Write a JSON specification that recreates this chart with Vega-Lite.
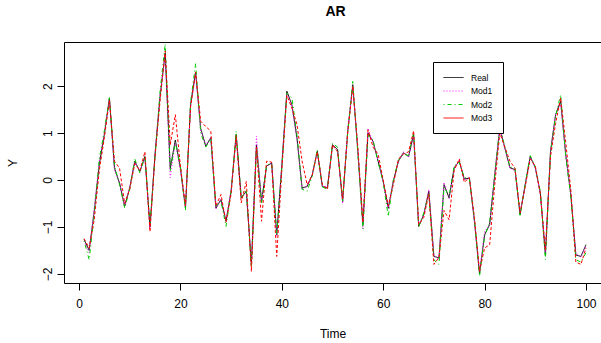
{
"$schema":"https://vega.github.io/schema/vega-lite/v6.json",
"width":537,"height":241,
"autosize":{"type":"none"},
"padding":{"left":64,"top":42,"right":0,"bottom":60},
"background":"white",
"title":{"text":"AR","fontSize":14,"fontWeight":"bold","font":"Liberation Sans","offset":23,"anchor":"middle","dx":3,"color":"black"},
"config":{"view":{"stroke":"black","strokeWidth":1},"font":"Liberation Sans"},
"data":{"values":[
{"t":1,"s":"Real","v":-1.27},{"t":2,"s":"Real","v":-1.5},{"t":3,"s":"Real","v":-0.67},{"t":4,"s":"Real","v":0.33},{"t":5,"s":"Real","v":0.97},{"t":6,"s":"Real","v":1.75},{"t":7,"s":"Real","v":0.25},{"t":8,"s":"Real","v":-0.07},{"t":9,"s":"Real","v":-0.56},{"t":10,"s":"Real","v":-0.17},
{"t":11,"s":"Real","v":0.4},{"t":12,"s":"Real","v":0.18},{"t":13,"s":"Real","v":0.5},{"t":14,"s":"Real","v":-1.0},{"t":15,"s":"Real","v":0.55},{"t":16,"s":"Real","v":1.8},{"t":17,"s":"Real","v":2.7},{"t":18,"s":"Real","v":0.25},{"t":19,"s":"Real","v":0.85},{"t":20,"s":"Real","v":0.25},
{"t":21,"s":"Real","v":-0.6},{"t":22,"s":"Real","v":1.6},{"t":23,"s":"Real","v":2.3},{"t":24,"s":"Real","v":1.1},{"t":25,"s":"Real","v":0.72},{"t":26,"s":"Real","v":0.9},{"t":27,"s":"Real","v":-0.6},{"t":28,"s":"Real","v":-0.42},{"t":29,"s":"Real","v":-0.88},{"t":30,"s":"Real","v":-0.24},
{"t":31,"s":"Real","v":0.97},{"t":32,"s":"Real","v":-0.38},{"t":33,"s":"Real","v":-0.24},{"t":34,"s":"Real","v":-1.8},{"t":35,"s":"Real","v":0.75},{"t":36,"s":"Real","v":-0.46},{"t":37,"s":"Real","v":0.3},{"t":38,"s":"Real","v":0.36},{"t":39,"s":"Real","v":-1.17},{"t":40,"s":"Real","v":0.3},
{"t":41,"s":"Real","v":1.89},{"t":42,"s":"Real","v":1.6},{"t":43,"s":"Real","v":0.89},{"t":44,"s":"Real","v":-0.17},{"t":45,"s":"Real","v":-0.14},{"t":46,"s":"Real","v":0.11},{"t":47,"s":"Real","v":0.61},{"t":48,"s":"Real","v":-0.14},{"t":49,"s":"Real","v":-0.17},{"t":50,"s":"Real","v":0.75},
{"t":51,"s":"Real","v":0.65},{"t":52,"s":"Real","v":-0.46},{"t":53,"s":"Real","v":1.04},{"t":54,"s":"Real","v":2.03},{"t":55,"s":"Real","v":0.61},{"t":56,"s":"Real","v":-0.95},{"t":57,"s":"Real","v":1.0},{"t":58,"s":"Real","v":0.82},{"t":59,"s":"Real","v":0.4},{"t":60,"s":"Real","v":-0.03},
{"t":61,"s":"Real","v":-0.6},{"t":62,"s":"Real","v":-0.03},{"t":63,"s":"Real","v":0.4},{"t":64,"s":"Real","v":0.58},{"t":65,"s":"Real","v":0.5},{"t":66,"s":"Real","v":0.97},{"t":67,"s":"Real","v":-0.99},{"t":68,"s":"Real","v":-0.74},{"t":69,"s":"Real","v":-0.24},{"t":70,"s":"Real","v":-1.63},
{"t":71,"s":"Real","v":-1.66},{"t":72,"s":"Real","v":-0.1},{"t":73,"s":"Real","v":-0.38},{"t":74,"s":"Real","v":0.26},{"t":75,"s":"Real","v":0.4},{"t":76,"s":"Real","v":0.02},{"t":77,"s":"Real","v":0.04},{"t":78,"s":"Real","v":-0.88},{"t":79,"s":"Real","v":-2.0},{"t":80,"s":"Real","v":-1.17},
{"t":81,"s":"Real","v":-0.95},{"t":82,"s":"Real","v":0.11},{"t":83,"s":"Real","v":1.1},{"t":84,"s":"Real","v":0.68},{"t":85,"s":"Real","v":0.26},{"t":86,"s":"Real","v":0.22},{"t":87,"s":"Real","v":-0.74},{"t":88,"s":"Real","v":-0.1},{"t":89,"s":"Real","v":0.5},{"t":90,"s":"Real","v":0.26},
{"t":91,"s":"Real","v":-0.28},{"t":92,"s":"Real","v":-1.6},{"t":93,"s":"Real","v":0.61},{"t":94,"s":"Real","v":1.39},{"t":95,"s":"Real","v":1.68},{"t":96,"s":"Real","v":0.54},{"t":97,"s":"Real","v":-0.31},{"t":98,"s":"Real","v":-1.6},{"t":99,"s":"Real","v":-1.63},{"t":100,"s":"Real","v":-1.38},
{"t":1,"s":"Mod1","v":-1.3},{"t":2,"s":"Mod1","v":-1.55},{"t":3,"s":"Mod1","v":-0.6},{"t":4,"s":"Mod1","v":0.4},{"t":5,"s":"Mod1","v":1.0},{"t":6,"s":"Mod1","v":1.7},{"t":7,"s":"Mod1","v":0.2},{"t":8,"s":"Mod1","v":-0.05},{"t":9,"s":"Mod1","v":-0.55},{"t":10,"s":"Mod1","v":-0.15},
{"t":11,"s":"Mod1","v":0.38},{"t":12,"s":"Mod1","v":0.2},{"t":13,"s":"Mod1","v":0.45},{"t":14,"s":"Mod1","v":-1.05},{"t":15,"s":"Mod1","v":0.6},{"t":16,"s":"Mod1","v":1.85},{"t":17,"s":"Mod1","v":2.65},{"t":18,"s":"Mod1","v":0.05},{"t":19,"s":"Mod1","v":0.8},{"t":20,"s":"Mod1","v":0.2},
{"t":21,"s":"Mod1","v":-0.55},{"t":22,"s":"Mod1","v":1.55},{"t":23,"s":"Mod1","v":2.25},{"t":24,"s":"Mod1","v":1.05},{"t":25,"s":"Mod1","v":0.75},{"t":26,"s":"Mod1","v":0.9},{"t":27,"s":"Mod1","v":-0.62},{"t":28,"s":"Mod1","v":-0.4},{"t":29,"s":"Mod1","v":-0.85},{"t":30,"s":"Mod1","v":-0.2},
{"t":31,"s":"Mod1","v":0.9},{"t":32,"s":"Mod1","v":-0.35},{"t":33,"s":"Mod1","v":-0.28},{"t":34,"s":"Mod1","v":-1.75},{"t":35,"s":"Mod1","v":0.93},{"t":36,"s":"Mod1","v":-0.45},{"t":37,"s":"Mod1","v":0.28},{"t":38,"s":"Mod1","v":0.36},{"t":39,"s":"Mod1","v":-1.2},{"t":40,"s":"Mod1","v":0.35},
{"t":41,"s":"Mod1","v":1.85},{"t":42,"s":"Mod1","v":1.55},{"t":43,"s":"Mod1","v":0.85},{"t":44,"s":"Mod1","v":-0.2},{"t":45,"s":"Mod1","v":-0.12},{"t":46,"s":"Mod1","v":0.12},{"t":47,"s":"Mod1","v":0.58},{"t":48,"s":"Mod1","v":-0.12},{"t":49,"s":"Mod1","v":-0.15},{"t":50,"s":"Mod1","v":0.72},
{"t":51,"s":"Mod1","v":0.62},{"t":52,"s":"Mod1","v":-0.5},{"t":53,"s":"Mod1","v":1.1},{"t":54,"s":"Mod1","v":1.98},{"t":55,"s":"Mod1","v":0.65},{"t":56,"s":"Mod1","v":-1.05},{"t":57,"s":"Mod1","v":1.1},{"t":58,"s":"Mod1","v":0.8},{"t":59,"s":"Mod1","v":0.42},{"t":60,"s":"Mod1","v":-0.05},
{"t":61,"s":"Mod1","v":-0.62},{"t":62,"s":"Mod1","v":0.0},{"t":63,"s":"Mod1","v":0.38},{"t":64,"s":"Mod1","v":0.6},{"t":65,"s":"Mod1","v":0.48},{"t":66,"s":"Mod1","v":0.92},{"t":67,"s":"Mod1","v":-0.95},{"t":68,"s":"Mod1","v":-0.75},{"t":69,"s":"Mod1","v":-0.2},{"t":70,"s":"Mod1","v":-1.6},
{"t":71,"s":"Mod1","v":-1.7},{"t":72,"s":"Mod1","v":-0.05},{"t":73,"s":"Mod1","v":-0.4},{"t":74,"s":"Mod1","v":0.25},{"t":75,"s":"Mod1","v":0.42},{"t":76,"s":"Mod1","v":0.0},{"t":77,"s":"Mod1","v":0.05},{"t":78,"s":"Mod1","v":-0.9},{"t":79,"s":"Mod1","v":-1.95},{"t":80,"s":"Mod1","v":-1.1},
{"t":81,"s":"Mod1","v":-0.95},{"t":82,"s":"Mod1","v":0.15},{"t":83,"s":"Mod1","v":1.12},{"t":84,"s":"Mod1","v":0.65},{"t":85,"s":"Mod1","v":0.25},{"t":86,"s":"Mod1","v":0.2},{"t":87,"s":"Mod1","v":-0.7},{"t":88,"s":"Mod1","v":-0.12},{"t":89,"s":"Mod1","v":0.48},{"t":90,"s":"Mod1","v":0.25},
{"t":91,"s":"Mod1","v":-0.3},{"t":92,"s":"Mod1","v":-1.55},{"t":93,"s":"Mod1","v":0.6},{"t":94,"s":"Mod1","v":1.4},{"t":95,"s":"Mod1","v":1.6},{"t":96,"s":"Mod1","v":0.55},{"t":97,"s":"Mod1","v":-0.3},{"t":98,"s":"Mod1","v":-1.55},{"t":99,"s":"Mod1","v":-1.65},{"t":100,"s":"Mod1","v":-1.4},
{"t":1,"s":"Mod2","v":-1.3},{"t":2,"s":"Mod2","v":-1.7},{"t":3,"s":"Mod2","v":-0.75},{"t":4,"s":"Mod2","v":0.45},{"t":5,"s":"Mod2","v":1.05},{"t":6,"s":"Mod2","v":1.75},{"t":7,"s":"Mod2","v":0.3},{"t":8,"s":"Mod2","v":-0.1},{"t":9,"s":"Mod2","v":-0.6},{"t":10,"s":"Mod2","v":-0.2},
{"t":11,"s":"Mod2","v":0.45},{"t":12,"s":"Mod2","v":0.15},{"t":13,"s":"Mod2","v":0.5},{"t":14,"s":"Mod2","v":-0.95},{"t":15,"s":"Mod2","v":0.5},{"t":16,"s":"Mod2","v":1.9},{"t":17,"s":"Mod2","v":2.9},{"t":18,"s":"Mod2","v":0.2},{"t":19,"s":"Mod2","v":0.8},{"t":20,"s":"Mod2","v":0.3},
{"t":21,"s":"Mod2","v":-0.65},{"t":22,"s":"Mod2","v":1.65},{"t":23,"s":"Mod2","v":2.48},{"t":24,"s":"Mod2","v":1.0},{"t":25,"s":"Mod2","v":0.7},{"t":26,"s":"Mod2","v":0.88},{"t":27,"s":"Mod2","v":-0.55},{"t":28,"s":"Mod2","v":-0.45},{"t":29,"s":"Mod2","v":-0.99},{"t":30,"s":"Mod2","v":-0.25},
{"t":31,"s":"Mod2","v":1.04},{"t":32,"s":"Mod2","v":-0.4},{"t":33,"s":"Mod2","v":-0.2},{"t":34,"s":"Mod2","v":-1.85},{"t":35,"s":"Mod2","v":0.7},{"t":36,"s":"Mod2","v":-0.5},{"t":37,"s":"Mod2","v":0.32},{"t":38,"s":"Mod2","v":0.34},{"t":39,"s":"Mod2","v":-1.15},{"t":40,"s":"Mod2","v":0.25},
{"t":41,"s":"Mod2","v":1.85},{"t":42,"s":"Mod2","v":1.75},{"t":43,"s":"Mod2","v":0.95},{"t":44,"s":"Mod2","v":-0.2},{"t":45,"s":"Mod2","v":-0.24},{"t":46,"s":"Mod2","v":0.08},{"t":47,"s":"Mod2","v":0.65},{"t":48,"s":"Mod2","v":-0.15},{"t":49,"s":"Mod2","v":-0.2},{"t":50,"s":"Mod2","v":0.78},
{"t":51,"s":"Mod2","v":0.7},{"t":52,"s":"Mod2","v":-0.45},{"t":53,"s":"Mod2","v":1.0},{"t":54,"s":"Mod2","v":2.1},{"t":55,"s":"Mod2","v":0.55},{"t":56,"s":"Mod2","v":-1.05},{"t":57,"s":"Mod2","v":0.95},{"t":58,"s":"Mod2","v":0.85},{"t":59,"s":"Mod2","v":0.38},{"t":60,"s":"Mod2","v":-0.05},
{"t":61,"s":"Mod2","v":-0.78},{"t":62,"s":"Mod2","v":0.0},{"t":63,"s":"Mod2","v":0.42},{"t":64,"s":"Mod2","v":0.55},{"t":65,"s":"Mod2","v":0.52},{"t":66,"s":"Mod2","v":1.0},{"t":67,"s":"Mod2","v":-1.0},{"t":68,"s":"Mod2","v":-0.7},{"t":69,"s":"Mod2","v":-0.3},{"t":70,"s":"Mod2","v":-1.7},
{"t":71,"s":"Mod2","v":-1.8},{"t":72,"s":"Mod2","v":-0.15},{"t":73,"s":"Mod2","v":-0.35},{"t":74,"s":"Mod2","v":0.3},{"t":75,"s":"Mod2","v":0.38},{"t":76,"s":"Mod2","v":0.05},{"t":77,"s":"Mod2","v":0.02},{"t":78,"s":"Mod2","v":-0.85},{"t":79,"s":"Mod2","v":-2.05},{"t":80,"s":"Mod2","v":-1.2},
{"t":81,"s":"Mod2","v":-0.9},{"t":82,"s":"Mod2","v":0.08},{"t":83,"s":"Mod2","v":1.15},{"t":84,"s":"Mod2","v":0.7},{"t":85,"s":"Mod2","v":0.28},{"t":86,"s":"Mod2","v":0.25},{"t":87,"s":"Mod2","v":-0.78},{"t":88,"s":"Mod2","v":-0.08},{"t":89,"s":"Mod2","v":0.52},{"t":90,"s":"Mod2","v":0.28},
{"t":91,"s":"Mod2","v":-0.25},{"t":92,"s":"Mod2","v":-1.7},{"t":93,"s":"Mod2","v":0.55},{"t":94,"s":"Mod2","v":1.35},{"t":95,"s":"Mod2","v":1.82},{"t":96,"s":"Mod2","v":0.5},{"t":97,"s":"Mod2","v":-0.35},{"t":98,"s":"Mod2","v":-1.7},{"t":99,"s":"Mod2","v":-1.75},{"t":100,"s":"Mod2","v":-1.55},
{"t":1,"s":"Mod3","v":-1.25},{"t":2,"s":"Mod3","v":-1.45},{"t":3,"s":"Mod3","v":-0.85},{"t":4,"s":"Mod3","v":0.2},{"t":5,"s":"Mod3","v":0.9},{"t":6,"s":"Mod3","v":1.7},{"t":7,"s":"Mod3","v":0.4},{"t":8,"s":"Mod3","v":0.25},{"t":9,"s":"Mod3","v":-0.5},{"t":10,"s":"Mod3","v":-0.2},
{"t":11,"s":"Mod3","v":0.35},{"t":12,"s":"Mod3","v":0.2},{"t":13,"s":"Mod3","v":0.6},{"t":14,"s":"Mod3","v":-1.1},{"t":15,"s":"Mod3","v":0.5},{"t":16,"s":"Mod3","v":1.7},{"t":17,"s":"Mod3","v":2.75},{"t":18,"s":"Mod3","v":0.75},{"t":19,"s":"Mod3","v":1.39},{"t":20,"s":"Mod3","v":0.3},
{"t":21,"s":"Mod3","v":-0.55},{"t":22,"s":"Mod3","v":1.55},{"t":23,"s":"Mod3","v":2.3},{"t":24,"s":"Mod3","v":1.25},{"t":25,"s":"Mod3","v":1.14},{"t":26,"s":"Mod3","v":1.04},{"t":27,"s":"Mod3","v":-0.55},{"t":28,"s":"Mod3","v":-0.31},{"t":29,"s":"Mod3","v":-0.9},{"t":30,"s":"Mod3","v":-0.3},
{"t":31,"s":"Mod3","v":0.95},{"t":32,"s":"Mod3","v":-0.49},{"t":33,"s":"Mod3","v":-0.03},{"t":34,"s":"Mod3","v":-1.95},{"t":35,"s":"Mod3","v":0.7},{"t":36,"s":"Mod3","v":-0.88},{"t":37,"s":"Mod3","v":0.4},{"t":38,"s":"Mod3","v":0.38},{"t":39,"s":"Mod3","v":-1.63},{"t":40,"s":"Mod3","v":0.2},
{"t":41,"s":"Mod3","v":1.8},{"t":42,"s":"Mod3","v":1.53},{"t":43,"s":"Mod3","v":1.18},{"t":44,"s":"Mod3","v":0.4},{"t":45,"s":"Mod3","v":-0.1},{"t":46,"s":"Mod3","v":0.1},{"t":47,"s":"Mod3","v":0.6},{"t":48,"s":"Mod3","v":-0.1},{"t":49,"s":"Mod3","v":-0.2},{"t":50,"s":"Mod3","v":0.75},
{"t":51,"s":"Mod3","v":0.6},{"t":52,"s":"Mod3","v":-0.4},{"t":53,"s":"Mod3","v":1.0},{"t":54,"s":"Mod3","v":2.0},{"t":55,"s":"Mod3","v":0.7},{"t":56,"s":"Mod3","v":-0.9},{"t":57,"s":"Mod3","v":1.07},{"t":58,"s":"Mod3","v":0.7},{"t":59,"s":"Mod3","v":0.55},{"t":60,"s":"Mod3","v":0.0},
{"t":61,"s":"Mod3","v":-0.55},{"t":62,"s":"Mod3","v":-0.1},{"t":63,"s":"Mod3","v":0.45},{"t":64,"s":"Mod3","v":0.55},{"t":65,"s":"Mod3","v":0.6},{"t":66,"s":"Mod3","v":1.05},{"t":67,"s":"Mod3","v":-0.95},{"t":68,"s":"Mod3","v":-0.8},{"t":69,"s":"Mod3","v":-0.3},{"t":70,"s":"Mod3","v":-1.8},
{"t":71,"s":"Mod3","v":-1.65},{"t":72,"s":"Mod3","v":-0.65},{"t":73,"s":"Mod3","v":-0.85},{"t":74,"s":"Mod3","v":0.2},{"t":75,"s":"Mod3","v":0.45},{"t":76,"s":"Mod3","v":-0.05},{"t":77,"s":"Mod3","v":0.05},{"t":78,"s":"Mod3","v":-0.8},{"t":79,"s":"Mod3","v":-1.95},{"t":80,"s":"Mod3","v":-1.45},
{"t":81,"s":"Mod3","v":-1.38},{"t":82,"s":"Mod3","v":-0.1},{"t":83,"s":"Mod3","v":1.0},{"t":84,"s":"Mod3","v":0.7},{"t":85,"s":"Mod3","v":0.4},{"t":86,"s":"Mod3","v":0.25},{"t":87,"s":"Mod3","v":-0.7},{"t":88,"s":"Mod3","v":-0.15},{"t":89,"s":"Mod3","v":0.45},{"t":90,"s":"Mod3","v":0.3},
{"t":91,"s":"Mod3","v":-0.3},{"t":92,"s":"Mod3","v":-1.5},{"t":93,"s":"Mod3","v":0.5},{"t":94,"s":"Mod3","v":1.2},{"t":95,"s":"Mod3","v":1.75},{"t":96,"s":"Mod3","v":0.8},{"t":97,"s":"Mod3","v":-0.2},{"t":98,"s":"Mod3","v":-1.75},{"t":99,"s":"Mod3","v":-1.8},{"t":100,"s":"Mod3","v":-1.45}
]},
"encoding":{
"x":{"field":"t","type":"quantitative","scale":{"domain":[-2.96,102.96],"nice":false,"zero":false},
"axis":{"values":[0,20,40,60,80,100],"domain":false,"grid":false,"tickSize":7,"tickColor":"black","labelFontSize":12,"labelColor":"black","labelPadding":8,"labelFlush":false,"title":"Time","titleFontSize":12,"titleFontWeight":"normal","titleColor":"black","titlePadding":19}},
"y":{"field":"v","type":"quantitative","scale":{"domain":[-2.196,2.94],"nice":false,"zero":false},
"axis":{"values":[-2,-1,0,1,2],"domain":false,"grid":false,"tickSize":7,"tickColor":"black","labelFontSize":12,"labelColor":"black","labelPadding":3,"labelAngle":270,"labelFlush":false,"title":"Y","titleFontSize":12,"titleFontWeight":"normal","titleColor":"black","titlePadding":22}},
"order":{"field":"t","type":"quantitative"}
},
"layer":[
{"transform":[{"filter":"datum.s !== 'Mod3'"}],
"mark":{"type":"line","strokeWidth":1,"clip":true},
"encoding":{
"color":{"field":"s","type":"nominal","scale":{"domain":["Real","Mod1","Mod2","Mod3"],"range":["#000000","#FF00FF","#00CC00","#FF0000"]},
"legend":{"title":null,"orient":"none","legendX":369,"legendY":20,"strokeColor":"black","fillColor":"white","padding":10,"symbolType":"M-1,0H3","symbolSize":100,"symbolStrokeWidth":1,"labelFontSize":8.5,"labelColor":"black","labelOffset":17,"rowPadding":3.5,"cornerRadius":0}},
"strokeDash":{"field":"s","type":"nominal","scale":{"domain":["Real","Mod1","Mod2","Mod3"],"range":[[1,0],[1,2],[1,3,4,3],[1,0]]},
"legend":{"title":null,"orient":"none","legendX":369,"legendY":20,"strokeColor":"black","fillColor":"white","padding":10,"symbolType":"M-1,0H3","symbolSize":100,"symbolStrokeWidth":1,"labelFontSize":8.5,"labelColor":"black","labelOffset":17,"rowPadding":3.5,"cornerRadius":0}}
}},
{"transform":[{"filter":"datum.s === 'Mod3'"}],
"mark":{"type":"line","strokeWidth":1,"clip":true,"color":"#FF0000","strokeDash":[3,2]}}
]
}
